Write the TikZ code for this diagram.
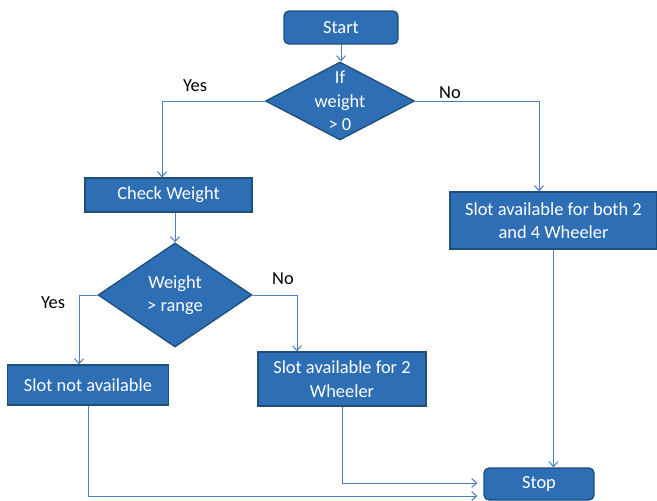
\documentclass[tikz,border=0pt]{standalone}
\usepackage{fontspec}
\setmainfont{Carlito}
\usetikzlibrary{arrows.meta,shapes.geometric}
\definecolor{boxblue}{HTML}{2E6EB5}
\definecolor{rimblue}{HTML}{1F4E79}
\definecolor{lineblue}{HTML}{4A7EC1}

\begin{document}
\begin{tikzpicture}[x=1pt,y=-1pt]
\useasboundingbox (0,0) rectangle (657,501);
\begin{scope}[every node/.style={draw=rimblue, fill=boxblue, text=white, line width=1.3pt,
              font=\fontsize{18.4}{23.5}\selectfont, align=center, inner sep=0pt}]
    \node[rounded corners=5pt, minimum width=114pt, minimum height=33pt] (start) at (341,27.5) {Start};
    \node[diamond, inner sep=-40pt, minimum width=149pt, minimum height=78pt] (ifw) at (340,101) {If\\weight\\> 0};
    \node[minimum width=167pt, minimum height=34pt] (check) at (168.5,195) {Check Weight};
    \node[diamond, inner sep=-40pt, minimum width=154pt, minimum height=104pt] (range) at (175,295) {Weight\\> range};
    \node[minimum width=207pt, minimum height=57pt] (both) at (553.5,220.5) {Slot available for both 2\\and 4 Wheeler};
    \node[minimum width=161pt, minimum height=40pt] (none) at (88,385) {Slot not available};
    \node[minimum width=168pt, minimum height=54pt] (two) at (342,379) {Slot available for 2\\Wheeler};
    \node[rounded corners=5pt, minimum width=110pt, minimum height=32pt] (stop) at (539,484) {Stop};
\end{scope}

\begin{scope}[every node/.style={font=\fontsize{18.4}{23.5}\selectfont, text=black}]
    \node (yesa) at (195,86) {Yes};
    \node (noa) at (450,93) {No};
    \node (yesb) at (53,303) {Yes};
    \node (nob) at (283,279) {No};
\end{scope}

\begin{scope}[>={Straight Barb[length=5pt,width=9pt]},
              every path/.style={draw=lineblue, line width=1pt}]
    \draw [->] (start.south) -- (start.south |- ifw.north);
    \draw [->] (ifw.west) -| ([xshift=-6.5pt]check.north);
    \draw [->] (ifw.east) -| ([xshift=-14.5pt]both.north);
    \draw [->] (check.south -| range.north) -- (range.north);
    \draw [->] (range.west) -| ([xshift=-9pt]none.north);
    \draw [->] (range.east) -| ([xshift=-45pt]two.north);
    \draw [->] (both.south) -- (both.south |- stop.north);
    \draw [->, shorten >=6pt] (two.south) |- ([yshift=1pt]stop.west);
    \draw [->, shorten >=6pt] (none.south) |- ([yshift=-12pt]stop.west);
\end{scope}
\end{tikzpicture}
\end{document}
